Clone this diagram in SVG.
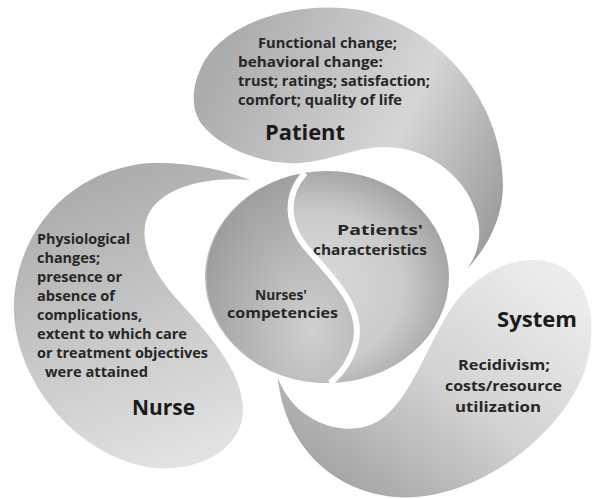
<svg xmlns="http://www.w3.org/2000/svg" width="594" height="499" viewBox="0 0 594 499">
  <defs>
    <linearGradient id="gPatient" x1="0" y1="0.4" x2="1" y2="0.8">
      <stop offset="0" stop-color="#acacac"/>
      <stop offset="0.6" stop-color="#d6d6d6"/>
      <stop offset="1" stop-color="#9c9c9c"/>
    </linearGradient>
    <linearGradient id="gNurse" x1="0.3" y1="0" x2="0.6" y2="1">
      <stop offset="0" stop-color="#a9a9a9"/>
      <stop offset="1" stop-color="#e2e2e2"/>
    </linearGradient>
    <linearGradient id="gSystem" x1="0.9" y1="0.1" x2="0.1" y2="0.9">
      <stop offset="0" stop-color="#ececec"/>
      <stop offset="0.5" stop-color="#d2d2d2"/>
      <stop offset="1" stop-color="#a2a2a2"/>
    </linearGradient>
    <radialGradient id="gRight" cx="0.45" cy="0.55" r="0.6">
      <stop offset="0" stop-color="#dadada"/>
      <stop offset="0.6" stop-color="#cbcbcb"/>
      <stop offset="1" stop-color="#9e9e9e"/>
    </radialGradient>
    <radialGradient id="gLeft" cx="0.7" cy="0.75" r="0.8">
      <stop offset="0" stop-color="#d0d0d0"/>
      <stop offset="1" stop-color="#9c9c9c"/>
    </radialGradient>
  </defs>
  <style>
    text { font-family: "Open Sans", "Liberation Sans", sans-serif; }
    .small { font-weight: 700; font-size: 14px; fill: #262626; }
    .mid { font-weight: 700; font-size: 14.5px; fill: #262626; }
    .title { font-weight: 700; font-size: 22px; fill: #1a1a1a; }
    .white { fill: none; stroke: #ffffff; stroke-width: 6; }
  </style>
  <rect width="594" height="499" fill="#ffffff"/>

  <g id="patient">
    <path d="M 466 270 C 490 245, 503 215, 503 185 C 503 110, 450 30, 360 10 C 300 0, 230 20, 205 60 C 188 90, 192 115, 205 128 C 225 150, 265 165, 300 163 C 335 160, 355 147, 385 147 C 430 147, 470 180, 478 220 C 482 240, 476 258, 466 270 Z" fill="url(#gPatient)"/>
    <text class="small" x="258" y="48" textLength="139" lengthAdjust="spacingAndGlyphs">Functional change;</text>
    <text class="small" x="238" y="67" textLength="145" lengthAdjust="spacingAndGlyphs">behavioral change:</text>
    <text class="small" x="238" y="86" textLength="192" lengthAdjust="spacingAndGlyphs">trust; ratings; satisfaction;</text>
    <text class="small" x="238" y="105" textLength="164" lengthAdjust="spacingAndGlyphs">comfort; quality of life</text>
    <text class="title" x="265" y="140" textLength="80" lengthAdjust="spacingAndGlyphs">Patient</text>
  </g>

  <g id="nurse">
    <path d="M 250 180 C 225 170, 190 162, 150 163 C 80 168, 20 220, 14 300 C 10 380, 80 460, 155 468 C 205 472, 243 445, 243 410 C 243 370, 205 330, 175 297 C 150 268, 138 240, 148 215 C 160 190, 200 176, 250 180 Z" fill="url(#gNurse)"/>
    <text class="small" x="37" y="244" textLength="93" lengthAdjust="spacingAndGlyphs">Physiological</text>
    <text class="small" x="37" y="263" textLength="63" lengthAdjust="spacingAndGlyphs">changes;</text>
    <text class="small" x="37" y="282" textLength="85" lengthAdjust="spacingAndGlyphs">presence or</text>
    <text class="small" x="37" y="301" textLength="78" lengthAdjust="spacingAndGlyphs">absence of</text>
    <text class="small" x="37" y="320" textLength="105" lengthAdjust="spacingAndGlyphs">complications,</text>
    <text class="small" x="37" y="339" textLength="150" lengthAdjust="spacingAndGlyphs">extent to which care</text>
    <text class="small" x="37" y="358" textLength="171" lengthAdjust="spacingAndGlyphs">or treatment objectives</text>
    <text class="small" x="45" y="377" textLength="103" lengthAdjust="spacingAndGlyphs">were attained</text>
    <text class="title" x="132" y="415" textLength="63" lengthAdjust="spacingAndGlyphs">Nurse</text>
  </g>

  <g id="system">
    <path d="M 278 378 C 282 430, 320 490, 395 497 C 470 503, 560 440, 585 370 C 600 320, 590 270, 545 261 C 505 255, 470 280, 450 310 C 425 350, 410 400, 380 420 C 350 440, 295 425, 278 378 Z" fill="url(#gSystem)"/>
    <text class="title" x="497" y="327" textLength="80" lengthAdjust="spacingAndGlyphs">System</text>
    <text class="mid" x="458" y="370" textLength="92" lengthAdjust="spacingAndGlyphs">Recidivism;</text>
    <text class="mid" x="445" y="391" textLength="117" lengthAdjust="spacingAndGlyphs">costs/resource</text>
    <text class="mid" x="455" y="412" textLength="86" lengthAdjust="spacingAndGlyphs">utilization</text>
  </g>

  <g id="core">
    <ellipse cx="327" cy="277" rx="122" ry="106" fill="url(#gRight)"/>
    <path d="M 305 173 C 285 195, 285 225, 310 252 C 335 280, 365 310, 355 345 C 350 362, 340 375, 330 383 A 122 106 0 0 1 305 173 Z" fill="url(#gLeft)"/>
    <text class="mid" x="337" y="235" textLength="86" lengthAdjust="spacingAndGlyphs">Patients'</text>
    <text class="mid" x="313" y="255" textLength="114" lengthAdjust="spacingAndGlyphs">characteristics</text>
    <text class="mid" x="255" y="300" textLength="52" lengthAdjust="spacingAndGlyphs">Nurses'</text>
    <text class="mid" x="227" y="318" textLength="111" lengthAdjust="spacingAndGlyphs">competencies</text>
  </g>

  <g id="connectors">
    <path class="white" d="M 305 173 C 285 195, 285 225, 310 252 C 335 280, 365 310, 355 345 C 350 362, 340 375, 330 383"/>
  </g>
</svg>
